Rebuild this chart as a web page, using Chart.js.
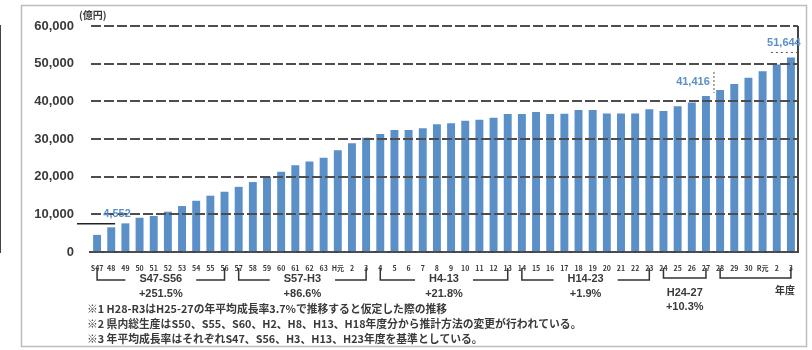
<!DOCTYPE html>
<html lang="ja">
<head>
<meta charset="utf-8">
<script src="https://cdn.jsdelivr.net/npm/chart.js@4"></script>
<style>
  html, body { margin: 0; padding: 0; background: #fff; }
</style>
</head>
<body>
<canvas id="gdpChart" width="812" height="350"></canvas>
<script>
// fiscal years S47 .. R3
const years = ['S47', '48', '49', '50', '51', '52', '53', '54', '55', '56', '57', '58', '59', '60', '61', '62', '63',
    'H元', '2', '3', '4', '5', '6', '7', '8', '9', '10', '11', '12', '13', '14', '15', '16', '17', '18', '19', '20',
    '21', '22', '23', '24', '25', '26', '27', '28', '29', '30', 'R元', '2', '3'];

// 県内総生産 (億円)
const gdp = [4552, 6550, 7600, 9100, 9550, 10700, 12200, 13600, 14950, 16000, 17300, 18570, 20000, 21300, 23000, 24000, 25000,
    27000, 28850, 30350, 31300, 32400, 32400, 32840, 33900, 34150, 34860, 35130, 35660, 36640, 36640, 37170, 36640, 36700, 37700, 37700, 36800,
    36800, 36800, 37900, 37430, 38700, 39680, 41416, 43000, 44600, 46250, 48000, 49780, 51644];

const yTicks = [0, 10000, 20000, 30000, 40000, 50000, 60000];

// bars that get a value label
const labelled = [0, 43, 49];

// growth periods (index of first and last bar)
const periodNames = ['S47-S56', 'S57-H3', 'H4-13', 'H14-23', 'H24-27'];
const periodRates = ['+251.5%', '+86.6%', '+21.8%', '+1.9%', '+10.3%'];
const periodFrom = [0, 10, 20, 30, 40];
const periodTo = [9, 19, 29, 39, 43];
const projFrom = 44;
const projTo = 49;

const notes = [
    '※1 H28-R3はH25-27の年平均成長率3.7%で推移すると仮定した際の推移',
    '※2 県内総生産はS50、S55、S60、H2、H8、H13、H18年度分から推計方法の変更が行われている。',
    '※3 年平均成長率はそれぞれS47、S56、H3、H13、H23年度を基準としている。'
];

const BLUE = '#5b8fc8';
const DARK = '#3a3a3a';
const JP = '"Noto Sans CJK JP", sans-serif';

function line(ctx, x0, y0, x1, y1) {
    ctx.beginPath();
    ctx.moveTo(x0, y0);
    ctx.lineTo(x1, y1);
    ctx.stroke();
}

const extras = {
    id: 'extras',
    afterDraw(chart) {
        const { ctx, chartArea: a, scales: { x, y } } = chart;
        ctx.save();

        // outer frame of the scanned figure
        ctx.strokeStyle = '#bdbdbd';
        ctx.lineWidth = 1.5;
        ctx.strokeRect(21.5, 5.5, 785, 341);

        // right edge of plot
        ctx.strokeStyle = '#444';
        ctx.lineWidth = 2;
        line(ctx, a.right, a.top, a.right, a.bottom);

        // unit
        ctx.fillStyle = DARK;
        ctx.font = 'bold 10px ' + JP;
        ctx.textAlign = 'left';
        ctx.textBaseline = 'middle';
        ctx.fillText('(億円)', 79, 15);

        // value labels
        ctx.font = 'bold 11px "Liberation Sans", sans-serif';
        ctx.fillStyle = BLUE;
        ctx.textAlign = 'center';
        labelled.forEach(i => {
            const bx = x.getPixelForValue(i);
            const by = y.getPixelForValue(gdp[i]);
            const txt = gdp[i].toLocaleString('en-US');
            if (i === 0) {
                ctx.fillText(txt, bx + 20, by - 21);
                ctx.strokeStyle = '#222';
                ctx.lineWidth = 1.5;
                line(ctx, 77, by - 11, bx + 18, by - 11);
            } else if (i === labelled[labelled.length - 1]) {
                ctx.fillText(txt, bx - 7, by - 15);
                ctx.strokeStyle = '#555';
                ctx.lineWidth = 1;
                ctx.setLineDash([2, 3]);
                line(ctx, bx - 20, by - 5, bx + 8, by - 5);
                ctx.setLineDash([]);
            } else {
                ctx.fillText(txt, bx - 13, by - 14);
                ctx.strokeStyle = '#555';
                ctx.lineWidth = 1;
                ctx.setLineDash([2, 2]);
                line(ctx, bx + 8, by - 24, bx + 8, by - 3);
                ctx.setLineDash([]);
            }
        });

        // period brackets
        ctx.strokeStyle = '#333';
        ctx.lineWidth = 1.5;
        ctx.fillStyle = DARK;
        ctx.font = 'bold 11px "Liberation Sans", sans-serif';
        periodNames.forEach((name, i) => {
            const x0 = x.getPixelForValue(periodFrom[i]);
            const x1 = x.getPixelForValue(periodTo[i]);
            const mid = (x0 + x1) / 2;
            if (i < 4) {
                const half = ctx.measureText(name).width / 2 + 14;
                ctx.beginPath();
                ctx.moveTo(x0, 268); ctx.lineTo(x0, 280); ctx.lineTo(mid - half, 280);
                ctx.moveTo(mid + half, 280); ctx.lineTo(x1, 280); ctx.lineTo(x1, 268);
                ctx.stroke();
                ctx.fillText(name, mid, 279);
                ctx.fillText(periodRates[i], mid, 294);
            } else {
                ctx.beginPath();
                ctx.moveTo(x0, 268); ctx.lineTo(x0, 278); ctx.lineTo(x1, 278); ctx.lineTo(x1, 268);
                ctx.stroke();
                ctx.fillText(name, mid, 293);
                ctx.fillText(periodRates[i], mid, 307);
            }
        });
        const p0 = x.getPixelForValue(projFrom);
        const p1 = x.getPixelForValue(projTo);
        ctx.beginPath();
        ctx.moveTo(p0, 268); ctx.lineTo(p0, 278); ctx.lineTo(p1, 278); ctx.lineTo(p1, 268);
        ctx.stroke();
        ctx.font = 'bold 10px ' + JP;
        ctx.fillText('年度', p1 - 6, 290);

        // footnotes
        ctx.textAlign = 'left';
        ctx.font = 'bold 10.8px ' + JP;
        notes.forEach((n, i) => ctx.fillText(n, 87, 309 + i * 15));

        ctx.restore();
    }
};

const config = {
    type: 'bar',
    data: {
        labels: years,
        datasets: [{
            data: gdp,
            backgroundColor: BLUE,
            borderWidth: 0,
            categoryPercentage: 1,
            barPercentage: 0.56
        }]
    },
    options: {
        responsive: false,
        animation: false,
        devicePixelRatio: 1,
        layout: { padding: { top: 26, right: 14, left: 0, bottom: 0 } },
        plugins: {
            legend: { display: false },
            tooltip: { enabled: false }
        },
        scales: {
            x: {
                grid: { display: false },
                border: { display: true, color: '#444', width: 2 },
                ticks: {
                    autoSkip: false,
                    maxRotation: 0,
                    padding: 4,
                    color: DARK,
                    font: { size: 7, weight: 'bold', family: JP }
                },
                afterFit: s => { s.height = 98; }
            },
            y: {
                min: 0,
                max: 60000,
                afterBuildTicks: s => { s.ticks = yTicks.map(v => ({ value: v })); },
                grid: { color: '#4d4d4d', lineWidth: 2, drawTicks: false, z: 1 },
                border: { display: true, color: '#444', width: 2, dash: [10, 3] },
                ticks: {
                    padding: 16,
                    color: DARK,
                    font: { size: 13, weight: 'bold', family: '"Liberation Sans", sans-serif' },
                    callback: v => v.toLocaleString('en-US')
                },
                afterFit: s => { s.width = 90; }
            }
        }
    },
    plugins: [extras]
};

new Chart(document.getElementById('gdpChart'), config);
</script>
</body>
</html>
